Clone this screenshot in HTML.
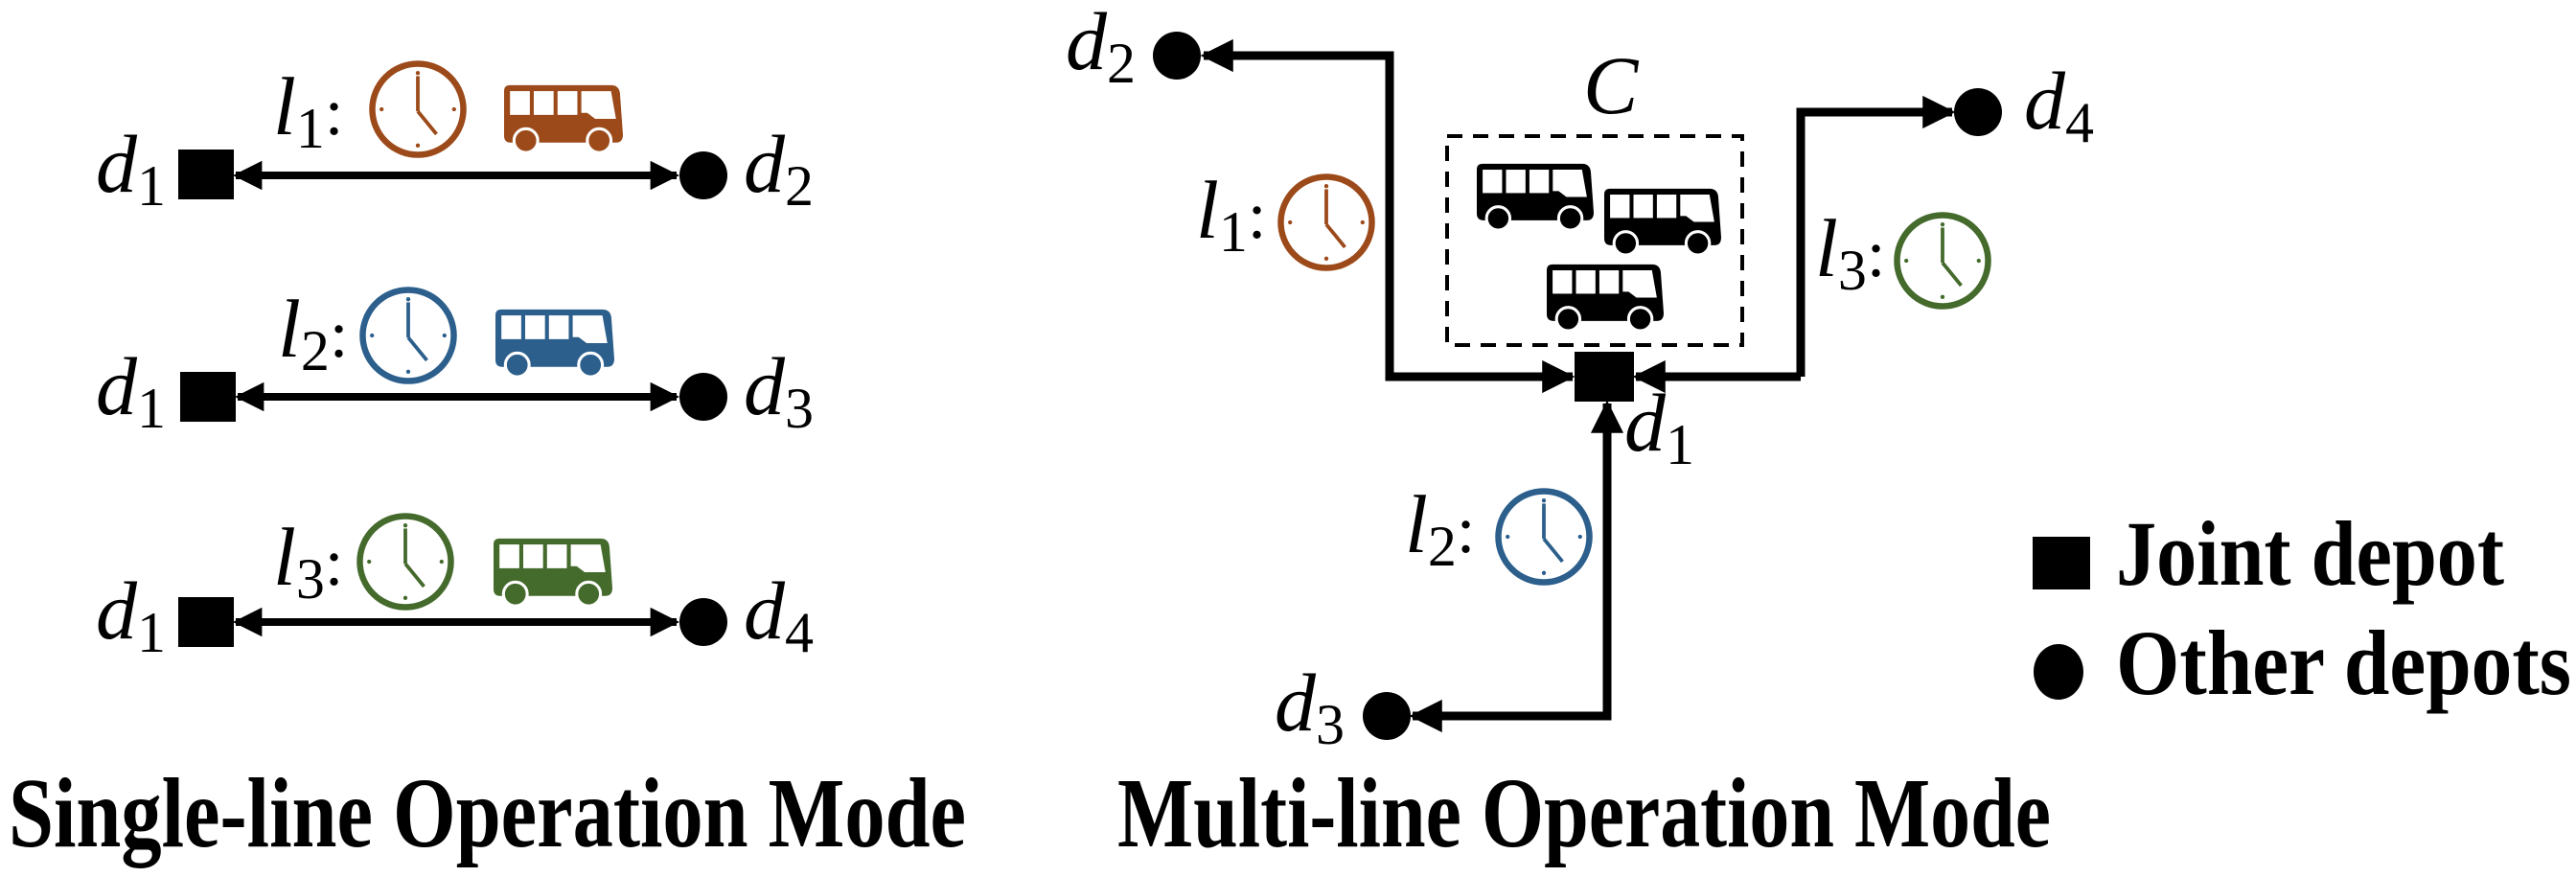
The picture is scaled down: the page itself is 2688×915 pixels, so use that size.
<!DOCTYPE html>
<html><head><meta charset="utf-8"><style>
html,body{margin:0;padding:0;background:#fff}
svg{display:block}
.m{font-family:"Liberation Serif",serif;font-style:italic}
.t{font-family:"Liberation Serif","Times New Roman",serif;font-weight:bold}
</style></head><body>
<svg width="2688" height="915" viewBox="0 0 2688 915" xmlns="http://www.w3.org/2000/svg">
<defs>
<symbol id="bus" viewBox="0 0 120 68">
<path d="M6 0 H108 Q116 0 117 8 L120 50 Q120 58 113 58 H7 Q0 58 0 51 V6 Q0 0 6 0 Z" fill="currentColor"/>
<rect x="6" y="6" width="20" height="24" fill="#fff"/>
<rect x="30" y="6" width="20" height="24" fill="#fff"/>
<rect x="54" y="6" width="20" height="24" fill="#fff"/>
<path d="M78 6 H108 L113 34 H92 L84 28 H78 Z" fill="#fff"/>
<circle cx="22" cy="56" r="12" fill="currentColor" stroke="#fff" stroke-width="3"/>
<circle cx="96" cy="56" r="12" fill="currentColor" stroke="#fff" stroke-width="3"/>
</symbol>
<symbol id="clk" viewBox="-50 -50 100 100">
<circle cx="0" cy="0" r="44" fill="none" stroke="currentColor" stroke-width="6"/>
<line x1="0" y1="2" x2="0" y2="-32" stroke="currentColor" stroke-width="3.5"/>
<line x1="0" y1="2" x2="18" y2="24" stroke="currentColor" stroke-width="3.5"/>
<circle cx="0" cy="-35" r="2" fill="currentColor"/><circle cx="0" cy="35" r="2" fill="currentColor"/>
<circle cx="-35" cy="0" r="2" fill="currentColor"/><circle cx="35" cy="0" r="2" fill="currentColor"/>
</symbol>
<marker id="ah" viewBox="0 0 10 10" refX="9" refY="5" markerWidth="3.8" markerHeight="3.8" markerUnits="strokeWidth" orient="auto-start-reverse">
<path d="M0 0 L10 5 L0 10 Z" fill="#000"/></marker>
</defs>

<!-- LEFT -->
<g font-size="86">
<text class="m" x="100" y="200">d<tspan font-size="60" dy="14" font-style="normal">1</tspan></text>
<rect x="186" y="156" width="58" height="52" fill="#000"/>
<line x1="246" y1="183" x2="706" y2="183" stroke="#000" stroke-width="8" marker-start="url(#ah)" marker-end="url(#ah)"/>
<circle cx="734" cy="183" r="25" fill="#000"/>
<text class="m" x="776" y="200">d<tspan font-size="60" dy="14" font-style="normal">2</tspan></text>
<text class="m" x="285" y="140">l<tspan font-size="60" dy="14" font-style="normal">1</tspan><tspan dy="-14" font-style="normal" font-size="70">:</tspan></text>
<use href="#clk" x="382" y="60" width="108" height="108" color="#9c4a1a"/>
<use href="#bus" x="526" y="88" width="124" height="72" color="#9c4a1a"/>

<text class="m" x="100" y="432">d<tspan font-size="60" dy="14" font-style="normal">1</tspan></text>
<rect x="188" y="388" width="58" height="52" fill="#000"/>
<line x1="248" y1="414" x2="706" y2="414" stroke="#000" stroke-width="8" marker-start="url(#ah)" marker-end="url(#ah)"/>
<circle cx="734" cy="414" r="25" fill="#000"/>
<text class="m" x="776" y="432">d<tspan font-size="60" dy="14" font-style="normal">3</tspan></text>
<text class="m" x="290" y="372">l<tspan font-size="60" dy="14" font-style="normal">2</tspan><tspan dy="-14" font-style="normal" font-size="70">:</tspan></text>
<use href="#clk" x="372" y="296" width="108" height="108" color="#2c5f8c"/>
<use href="#bus" x="517" y="322" width="124" height="72" color="#2c5f8c"/>

<text class="m" x="100" y="666">d<tspan font-size="60" dy="14" font-style="normal">1</tspan></text>
<rect x="186" y="623" width="58" height="52" fill="#000"/>
<line x1="246" y1="649" x2="706" y2="649" stroke="#000" stroke-width="8" marker-start="url(#ah)" marker-end="url(#ah)"/>
<circle cx="734" cy="649" r="25" fill="#000"/>
<text class="m" x="776" y="666">d<tspan font-size="60" dy="14" font-style="normal">4</tspan></text>
<text class="m" x="285" y="610">l<tspan font-size="60" dy="14" font-style="normal">3</tspan><tspan dy="-14" font-style="normal" font-size="70">:</tspan></text>
<use href="#clk" x="369" y="532" width="108" height="108" color="#446a2c"/>
<use href="#bus" x="515" y="561" width="124" height="72" color="#446a2c"/>
</g>
<text class="t" font-family="Liberation Serif" font-weight="bold" x="9" y="883" font-size="104" textLength="999" lengthAdjust="spacingAndGlyphs">Single-line Operation Mode</text>

<!-- RIGHT -->
<g font-size="86">
<rect x="1510" y="142" width="308" height="218" fill="none" stroke="#000" stroke-width="4" stroke-dasharray="16 11"/>
<use href="#bus" x="1541" y="170" width="122" height="71" color="#000"/>
<use href="#bus" x="1674" y="196" width="122" height="71" color="#000"/>
<use href="#bus" x="1614" y="275" width="122" height="71" color="#000"/>
<text class="m" x="1652" y="118">C</text>

<polyline points="1641,393 1450,393 1450,58 1256,58" fill="none" stroke="#000" stroke-width="9" marker-end="url(#ah)"/>
<line x1="1450" y1="393" x2="1640" y2="393" stroke="#000" stroke-width="9" marker-end="url(#ah)"/>
<polyline points="1879,393 1879,117 2037,117" fill="none" stroke="#000" stroke-width="9" marker-end="url(#ah)"/>
<line x1="1879" y1="393" x2="1707" y2="393" stroke="#000" stroke-width="9" marker-end="url(#ah)"/>
<polyline points="1677,421 1677,747 1474,747" fill="none" stroke="#000" stroke-width="9" marker-end="url(#ah)"/>
<line x1="1677" y1="747" x2="1677" y2="421" stroke="#000" stroke-width="9" marker-end="url(#ah)"/>

<rect x="1643" y="367" width="62" height="52" fill="#000"/>
<circle cx="1228" cy="58" r="25" fill="#000"/>
<circle cx="2064" cy="117" r="25" fill="#000"/>
<circle cx="1447" cy="747" r="25" fill="#000"/>

<text class="m" x="1112" y="72">d<tspan font-size="60" dy="14" font-style="normal">2</tspan></text>
<text class="m" x="2112" y="134">d<tspan font-size="60" dy="14" font-style="normal">4</tspan></text>
<text class="m" x="1330" y="762">d<tspan font-size="60" dy="14" font-style="normal">3</tspan></text>
<text class="m" x="1695" y="470">d<tspan font-size="60" dy="14" font-style="normal">1</tspan></text>

<text class="m" x="1248" y="248">l<tspan font-size="60" dy="14" font-style="normal">1</tspan><tspan dy="-14" font-style="normal" font-size="70">:</tspan></text>
<use href="#clk" x="1330" y="178" width="108" height="108" color="#9c4a1a"/>
<text class="m" x="1894" y="288">l<tspan font-size="60" dy="14" font-style="normal">3</tspan><tspan dy="-14" font-style="normal" font-size="70">:</tspan></text>
<use href="#clk" x="1973" y="218" width="108" height="108" color="#446a2c"/>
<text class="m" x="1466" y="576">l<tspan font-size="60" dy="14" font-style="normal">2</tspan><tspan dy="-14" font-style="normal" font-size="70">:</tspan></text>
<use href="#clk" x="1557" y="506" width="108" height="108" color="#2c5f8c"/>
</g>

<rect x="2121" y="560" width="60" height="55" fill="#000"/>
<text class="t" font-family="Liberation Serif" font-weight="bold" x="2208" y="610" font-size="96" textLength="405" lengthAdjust="spacingAndGlyphs">Joint depot</text>
<ellipse cx="2148" cy="701" rx="26" ry="29" fill="#000"/>
<text class="t" font-family="Liberation Serif" font-weight="bold" x="2208" y="724" font-size="96" textLength="475" lengthAdjust="spacingAndGlyphs">Other depots</text>

<text class="t" font-family="Liberation Serif" font-weight="bold" x="1166" y="883" font-size="104" textLength="974" lengthAdjust="spacingAndGlyphs">Multi-line Operation Mode</text>
</svg>
</body></html>
